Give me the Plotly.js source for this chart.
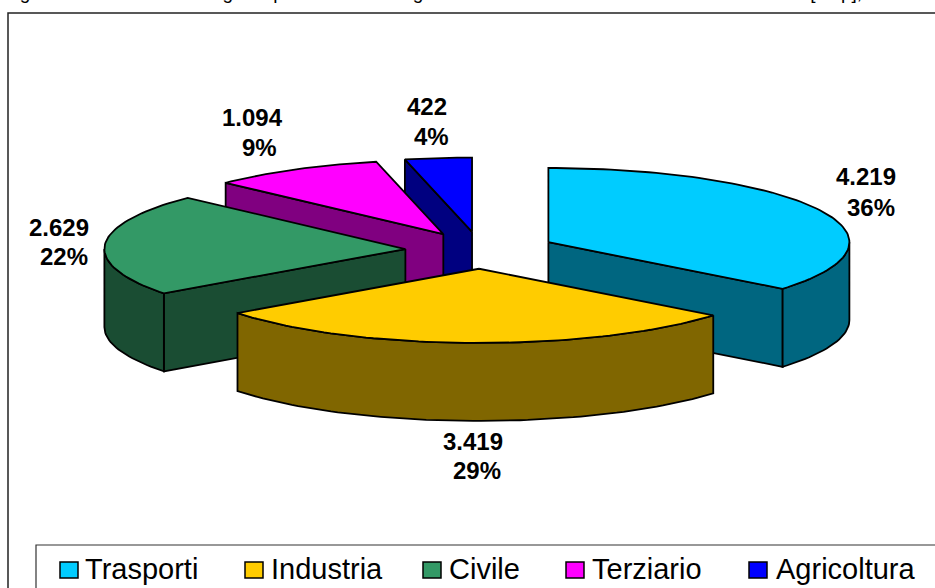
<!DOCTYPE html>
<html>
<head>
<meta charset="utf-8">
<script src="https://cdn.plot.ly/plotly-3.0.1.min.js"></script>
<style>html,body{margin:0;padding:0;background:#fff;overflow:hidden}#c{width:935px;height:588px}</style>
</head>
<body>
<div id="c"></div>
<script>
var categories = ["Trasporti", "Industria", "Civile", "Terziario", "Agricoltura"];
var values = [4219, 3419, 2629, 1094, 422];
var topColors = ["#00CCFF", "#FFCC00", "#339966", "#FF00FF", "#0000FF"];
var sideColors = ["#006680", "#806600", "#1A4D33", "#800080", "#000080"];
var drawOrder = [4, 3, 2, 0, 1];
var titleText = "Figura 4: Consumi di energia in provincia di Bologna nell'anno 2005 suddivisi tra i diversi settori [ktep], 2005";

// pie geometry, in axis units
var cx = 480.5, cy = 250.2, rx = 301, ry = 74.2, explode = 0.25, depth = 78;
var black = "#000";
var total = values.reduce(function (a, b) { return a + b; }, 0);

function rad(d) { return d * Math.PI / 180; }
function pt(o, deg, dz) {
  return [o[0] + rx * Math.sin(rad(deg)), o[1] - ry * Math.cos(rad(deg)) + (dz || 0)];
}
function arc(o, a0, a1, dz) {
  var out = [], n = Math.max(2, Math.ceil(Math.abs(a1 - a0) / 1.5));
  for (var i = 0; i <= n; i++) out.push(pt(o, a0 + (a1 - a0) * i / n, dz));
  return out;
}
function poly(points, color, name) {
  return {
    type: "scatter", mode: "lines", fill: "toself", fillcolor: color,
    x: points.map(function (p) { return p[0]; }),
    y: points.map(function (p) { return p[1]; }),
    line: { color: black, width: 1.8, shape: "linear" },
    hoverinfo: "skip", showlegend: false, name: name
  };
}
function radialFace(o, deg) {
  var e = pt(o, deg);
  return [[o[0], o[1]], e, [e[0], e[1] + depth], [o[0], o[1] + depth], [o[0], o[1]]];
}

// slice angles come from the values
var start = [], acc = 0;
values.forEach(function (v) { start.push(acc / total * 360); acc += v; });

var traces = [];
drawOrder.forEach(function (i) {
  var s = start[i], e = s + values[i] / total * 360, mid = (s + e) / 2;
  var o = [cx + explode * rx * Math.sin(rad(mid)), cy - explode * ry * Math.cos(rad(mid))];
  // side walls facing the viewer
  if (-Math.cos(rad(s - 90)) > 0.01) traces.push(poly(radialFace(o, s), sideColors[i], categories[i]));
  if (-Math.cos(rad(e + 90)) > 0.01) traces.push(poly(radialFace(o, e), sideColors[i], categories[i]));
  var r0 = Math.max(s, 90), r1 = Math.min(e, 270);
  if (r1 > r0) {
    var rim = arc(o, r0, r1, 0).concat(arc(o, r1, r0, depth));
    rim.push(rim[0]);
    traces.push(poly(rim, sideColors[i], categories[i]));
  }
  // top face
  var top = [[o[0], o[1]]].concat(arc(o, s, e, 0));
  top.push([o[0], o[1]]);
  traces.push(poly(top, topColors[i], categories[i]));
});

function fmt(v) { return String(v).replace(/\B(?=(\d{3})+$)/g, "."); }
function pct(v) { return Math.round(v / total * 100) + "%"; }

// right edge and the two row centres of each data label
var labelPos = [[896, 176, 895, 207], [503, 441, 501, 470], [89, 227, 88, 256], [283, 117, 277, 147], [447, 106, 449, 136]];
var legendPos = [[60, 84], [245, 270], [423, 448], [566, 591], [749, 775]];

var annotations = [];
values.forEach(function (v, i) {
  var p = labelPos[i];
  [[fmt(v), p[0], p[1]], [pct(v), p[2], p[3]]].forEach(function (r) {
    annotations.push({
      xref: "x", yref: "y", x: r[1], y: r[2], text: r[0], showarrow: false,
      xanchor: "right", yanchor: "middle", borderpad: 0, borderwidth: 0,
      font: { family: "Liberation Sans", size: 24, color: "#000", weight: 700 }
    });
  });
});
annotations.push({
  xref: "x", yref: "y", x: 3, y: 0, text: titleText, showarrow: false, align: "left",
  xanchor: "left", yanchor: "bottom", yshift: -4, borderpad: 0,
  font: { family: "Liberation Sans", size: 19, color: "#000" }
});

var shapes = [
  { type: "rect", xref: "x", yref: "y", x0: 8, y0: 13, x1: 960, y1: 620, line: { color: "#222", width: 1.5 }, fillcolor: "#fff", layer: "below" },
  { type: "rect", xref: "x", yref: "y", x0: 36, y0: 545, x1: 960, y1: 620, line: { color: "#333", width: 1.2 }, fillcolor: "#fff", layer: "below" }
];
categories.forEach(function (c, i) {
  var p = legendPos[i];
  shapes.push({
    type: "rect", xref: "x", yref: "y", x0: p[0], y0: 562, x1: p[0] + 18, y1: 578,
    line: { color: black, width: 1.5 }, fillcolor: topColors[i], layer: "above"
  });
  annotations.push({
    xref: "x", yref: "y", x: p[1], y: 569, text: c, showarrow: false,
    xanchor: "left", yanchor: "middle", borderpad: 0,
    font: { family: "Liberation Sans", size: 29, color: "#000" }
  });
});

Plotly.newPlot("c", traces, {
  width: 935, height: 588, autosize: false,
  margin: { l: 0, r: 0, t: 0, b: 0, pad: 0 },
  paper_bgcolor: "#fff", plot_bgcolor: "#fff", showlegend: false,
  xaxis: { range: [0, 935], visible: false, fixedrange: true },
  yaxis: { range: [588, 0], visible: false, fixedrange: true },
  annotations: annotations, shapes: shapes
}, { displayModeBar: false, staticPlot: true });
</script>
</body>
</html>
